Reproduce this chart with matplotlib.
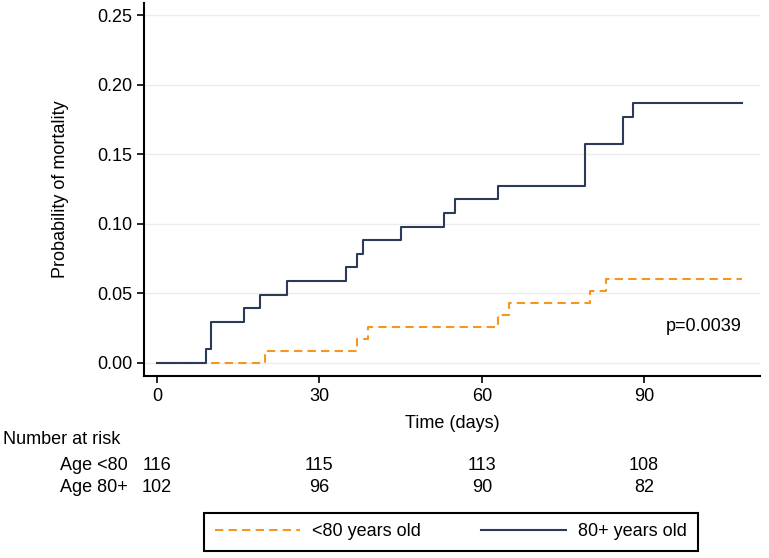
"""Cumulative mortality by age group with number-at-risk table."""
import matplotlib
matplotlib.use('Agg')
import matplotlib.pyplot as plt
import matplotlib.transforms as mtransforms
from matplotlib.lines import Line2D

plt.rcParams['font.family'] = ['Liberation Sans', 'DejaVu Sans']
plt.rcParams['font.size'] = 13

# step data (time in days, cumulative probability of death)
t_young = [0, 20, 37, 39, 63, 65, 80, 83, 108]
p_young = [0.0, 0.0086, 0.0172, 0.0259, 0.0345, 0.0431, 0.0517, 0.0603, 0.0603]

t_old = [0, 9, 10, 16, 19, 24, 35, 37, 38, 45, 53, 55, 63, 79, 86, 88, 108]
p_old = [0.0, 0.0098, 0.0294, 0.0392, 0.0490, 0.0588, 0.0686, 0.0784, 0.0882,
         0.0980, 0.1078, 0.1176, 0.1275, 0.1570, 0.1766, 0.1866, 0.1866]

risk_times = [0, 30, 60, 90]
risk_young = [116, 115, 113, 108]
risk_old = [102, 96, 90, 82]

c_young = '#f5961e'
c_old = '#2b3a56'

fig = plt.figure(figsize=(7.69, 5.58), dpi=100)
ax = fig.add_axes([0.1873, 0.3262, 0.801, 0.6684])

ax.step(t_young, p_young, where='post', color=c_young, linewidth=1.5,
        dashes=(4, 2.5), zorder=3)
ax.step(t_old, p_old, where='post', color=c_old, linewidth=1.5, zorder=4)

ax.set_xlim(-2.4, 111.4)
ax.set_ylim(-0.0094, 0.2587)
ax.set_xticks(risk_times)
ax.set_yticks([0, 0.05, 0.10, 0.15, 0.20, 0.25])
ax.yaxis.set_major_formatter(plt.FuncFormatter(lambda v, p: f'{v:.2f}'))
ax.tick_params(direction='out', length=5, width=1.2, labelsize=13)
ax.grid(True, axis='y', color='#ececec', linewidth=1.0, zorder=0)
ax.set_axisbelow(True)
for s in ['top', 'right']:
    ax.spines[s].set_visible(False)
for s in ['left', 'bottom']:
    ax.spines[s].set_linewidth(1.5)

ax.set_xlabel('Time (days)', fontsize=13, labelpad=7)
ax.set_ylabel('Probability of mortality', fontsize=13, labelpad=20)
ax.text(101, 0.026, 'p=0.0039', ha='center', va='center', fontsize=13)

# number at risk table
trans = mtransforms.blended_transform_factory(ax.transData, fig.transFigure)
fig.text(0.004, 1 - 439 / 558, 'Number at risk', ha='left', va='center', fontsize=13)
fig.text(128 / 769, 1 - 466 / 558, 'Age <80', ha='right', va='center', fontsize=13)
fig.text(128 / 769, 1 - 488 / 558, 'Age 80+', ha='right', va='center', fontsize=13)
for t, n in zip(risk_times, risk_young):
    ax.text(t, 1 - 466 / 558, str(n), transform=trans, ha='center',
            va='center', fontsize=13)
for t, n in zip(risk_times, risk_old):
    ax.text(t, 1 - 488 / 558, str(n), transform=trans, ha='center',
            va='center', fontsize=13)

handles = [Line2D([], [], color=c_young, linewidth=1.5, dashes=(4, 2.5)),
           Line2D([], [], color=c_old, linewidth=1.5)]
leg = fig.legend(handles, ['<80 years old', '80+ years old'], ncol=2,
                 loc='center', bbox_to_anchor=(451 / 769, 1 - 532 / 558),
                 fancybox=False, framealpha=1, edgecolor='black',
                 handlelength=4.7, handletextpad=0.7, columnspacing=3.3,
                 borderpad=0.6, borderaxespad=0, fontsize=13)
leg.get_frame().set_linewidth(1.5)

fig.savefig('out.png', dpi=100)
